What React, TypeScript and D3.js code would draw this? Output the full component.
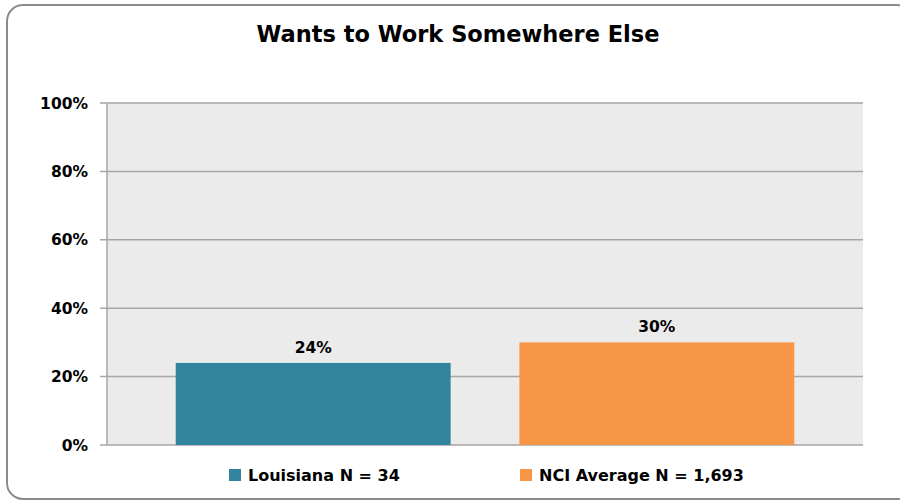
import React from "react";
import * as d3 from "d3";

const series = ["Louisiana N = 34", "NCI Average N = 1,693"];
const values = [0.24, 0.3];
const labels = ["24%", "30%"];
const colors = ["#31849b", "#f79646"];
const yTicks = [0, 0.2, 0.4, 0.6, 0.8, 1.0];
const title = "Wants to Work Somewhere Else";

export default function App() {
  const W = 900, H = 502;
  const plot = { left: 107, right: 863, top: 103, bottom: 445 };
  const x = d3.scaleBand<string>().domain(series).range([plot.left, plot.right]).paddingInner(0.2).paddingOuter(0.2);
  const y = d3.scaleLinear().domain([0, 1]).range([plot.bottom, plot.top]);
  const font = "'DejaVu Sans', sans-serif";
  const legendX = [229, 520];
  return (
    <svg width={W} height={H} style={{ position: "absolute", left: 0, top: 0 }} fontFamily={font}>
      <rect x={0} y={0} width={W} height={H} fill="#fff" />
      <rect x={7} y={5} width={906} height={494} rx={16} ry={16} fill="#fff" stroke="#8c8c8c" strokeWidth={2} />
      <text x={458} y={42} textAnchor="middle" fontSize={22.5} fontWeight="bold" fill="#000">{title}</text>
      <rect x={plot.left} y={plot.top} width={plot.right - plot.left} height={plot.bottom - plot.top} fill="#ebebeb" />
      {yTicks.map((t) => (
        <g key={t}>
          <line x1={100} x2={plot.right} y1={y(t)} y2={y(t)} stroke="#a6a6a6" strokeWidth={1.5} />
          <text x={88} y={y(t) + 5.5} textAnchor="end" fontSize={15.5} fontWeight="bold" fill="#000">{d3.format(".0%")(t)}</text>
        </g>
      ))}
      <line x1={plot.left} x2={plot.left} y1={plot.top} y2={plot.bottom} stroke="#a6a6a6" strokeWidth={1.5} />
      {series.map((s, i) => (
        <g key={s}>
          <rect x={x(s)} y={y(values[i])} width={x.bandwidth()} height={y(0) - y(values[i])} fill={colors[i]} />
          <text x={(x(s) as number) + x.bandwidth() / 2} y={y(values[i]) - 10} textAnchor="middle" fontSize={15.5} fontWeight="bold" fill="#000">{labels[i]}</text>
        </g>
      ))}
      {series.map((s, i) => (
        <g key={"lg" + s}>
          <rect x={legendX[i]} y={469} width={12} height={12} fill={colors[i]} />
          <text x={legendX[i] + 19} y={481} fontSize={16} fontWeight="bold" fill="#000">{s}</text>
        </g>
      ))}
    </svg>
  );
}
